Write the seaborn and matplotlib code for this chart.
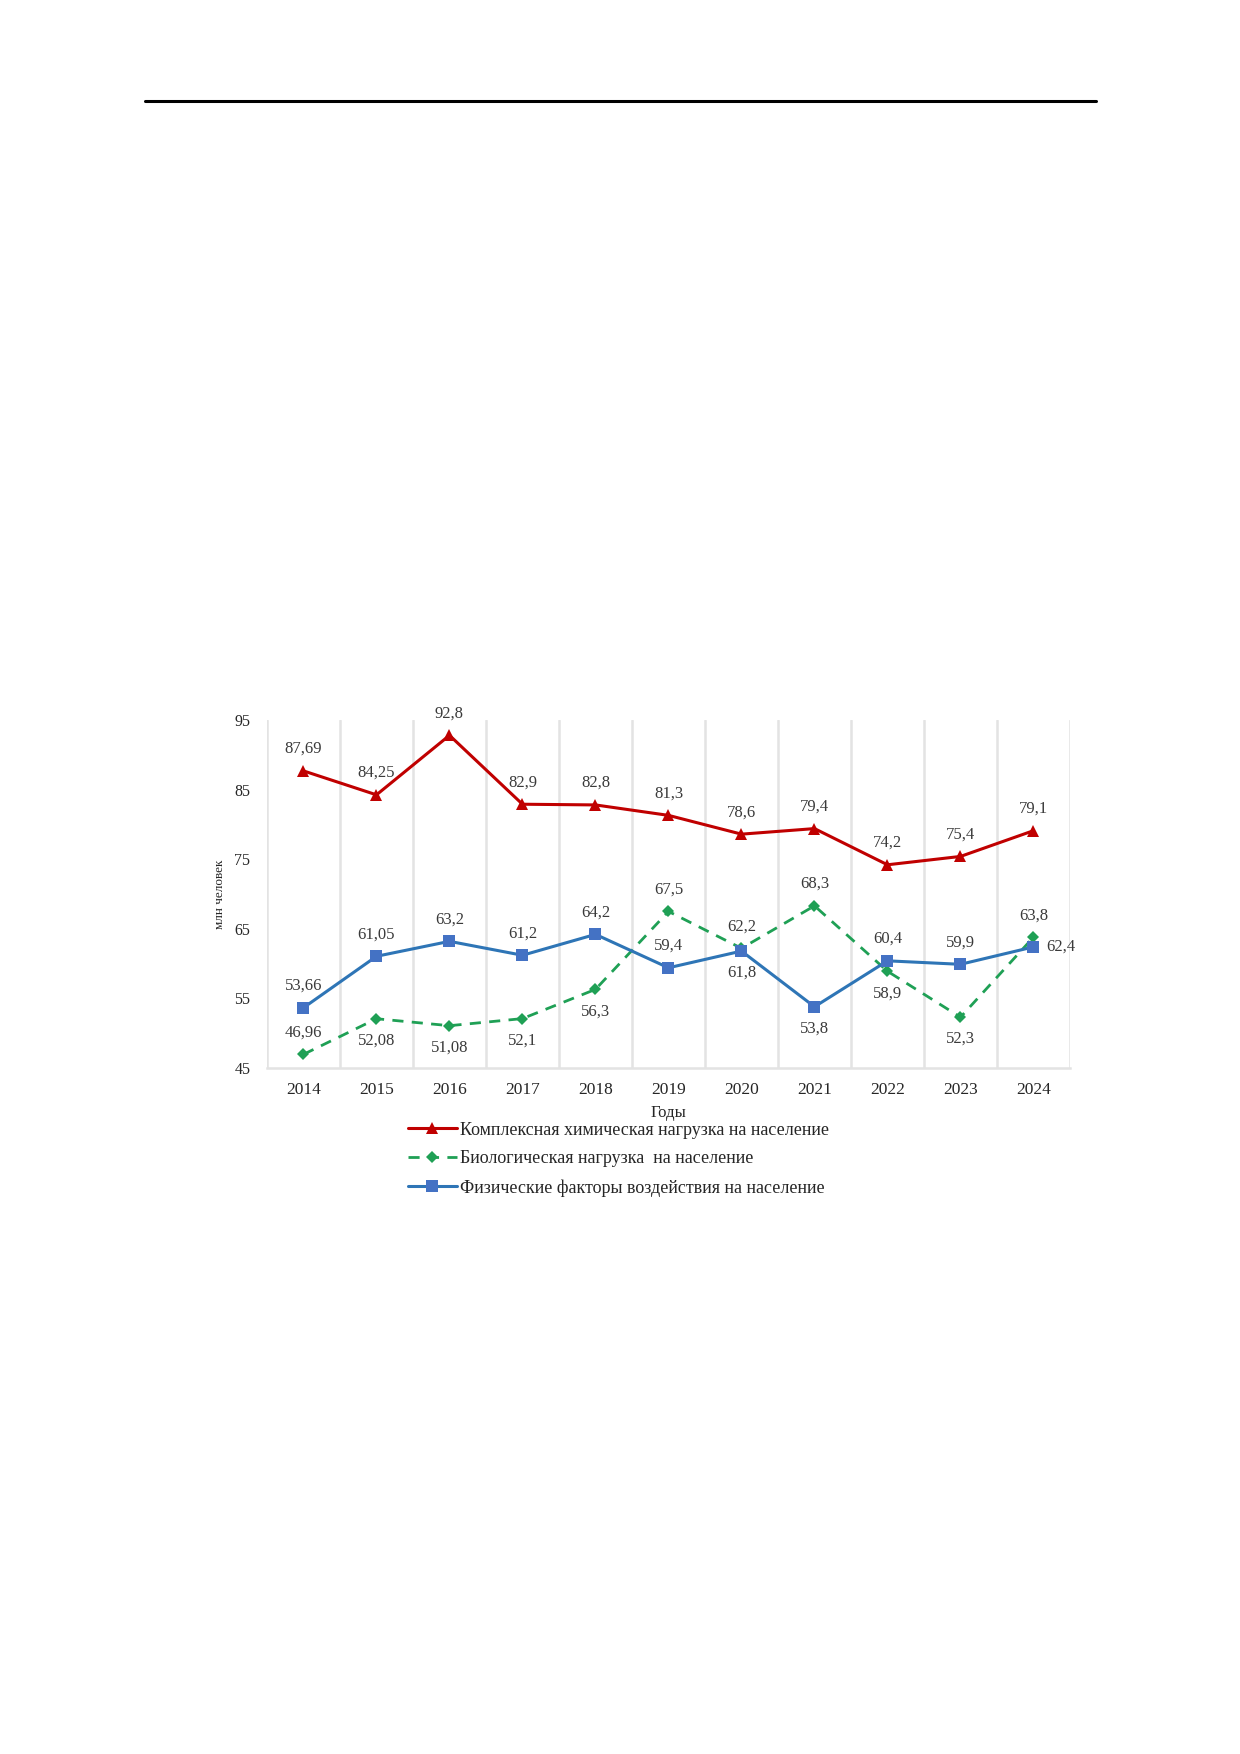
import matplotlib
matplotlib.use("Agg")
import matplotlib.pyplot as plt
import seaborn as sns
import pandas as pd
from matplotlib.lines import Line2D

# chart values
years = ["2014", "2015", "2016", "2017", "2018", "2019", "2020", "2021", "2022", "2023", "2024"]
chem = [87.69, 84.25, 92.8, 82.9, 82.8, 81.3, 78.6, 79.4, 74.2, 75.4, 79.1]
bio = [46.96, 52.08, 51.08, 52.1, 56.3, 67.5, 62.2, 68.3, 58.9, 52.3, 63.8]
phys = [53.66, 61.05, 63.2, 61.2, 64.2, 59.4, 61.8, 53.8, 60.4, 59.9, 62.4]

chem_name = "Комплексная химическая нагрузка на население"
bio_name = "Биологическая нагрузка  на население"
phys_name = "Физические факторы воздействия на население"

# where each data label sits: u = above, d = below, r = right
chem_pos = ["u"] * 11
bio_pos = ["u", "d", "d", "d", "d", "u", "u", "u", "d", "d", "u"]
phys_pos = ["u", "u", "u", "u", "u", "u", "d", "d", "u", "u", "r"]

sns.set_style("white")
plt.rcParams["font.family"] = ["Liberation Serif", "DejaVu Serif"]

df = pd.DataFrame({"x": range(len(years)), "chem": chem, "bio": bio, "phys": phys})

fig = plt.figure(figsize=(12.4, 17.54), dpi=100)
ax = fig.add_axes([0.2153, 0.3911, 0.6476, 0.1984])

red = "#C00000"
green = "#1FA055"
blue_line = "#2E75B6"
blue_mk = "#4472C4"

sns.lineplot(data=df, x="x", y="chem", ax=ax, color=red, lw=2.2, marker="^",
             markersize=8, markeredgewidth=0, label=chem_name, sort=False)
sns.lineplot(data=df, x="x", y="bio", ax=ax, color=green, lw=2.0, marker="D",
             markersize=6, markeredgewidth=0, label=bio_name, sort=False)
ax.lines[-1].set_dashes([5, 3.5])
sns.lineplot(data=df, x="x", y="phys", ax=ax, color=blue_line, lw=2.2, marker="s",
             markersize=9, markerfacecolor=blue_mk, markeredgewidth=0,
             label=phys_name, sort=False)


def put_labels(vals, pos):
    for i, (v, p) in enumerate(zip(vals, pos)):
        txt = f"{v:g}".replace(".", ",")
        if p == "u":
            off, ha, va = (0, 10), "center", "bottom"
        elif p == "d":
            off, ha, va = (0, -10), "center", "top"
        else:
            off, ha, va = (9, 0), "left", "center"
        ax.annotate(txt, (i, v), xytext=off, textcoords="offset points",
                    ha=ha, va=va, fontsize=12, color="#3a3a3a")


put_labels(chem, chem_pos)
put_labels(bio, bio_pos)
put_labels(phys, phys_pos)

ax.set_xlim(-0.5, len(years) - 0.5)
ax.set_ylim(45, 95)
ax.set_yticks([45, 55, 65, 75, 85, 95])
ax.set_xticks(range(len(years)))
ax.set_xticklabels(years, fontsize=12.5)
ax.tick_params(axis="y", labelsize=11.5, length=0, pad=12)
ax.tick_params(axis="x", length=0, pad=10)
for b in [i - 0.5 for i in range(len(years) + 1)]:
    ax.axvline(b, color="#E3E3E3", lw=1.8, zorder=0)
for s in ["top", "right", "left"]:
    ax.spines[s].set_visible(False)
ax.spines["bottom"].set_color("#E3E3E3")
ax.spines["bottom"].set_linewidth(1.8)
ax.set_xlabel("Годы", fontsize=12, labelpad=5)
ax.set_ylabel("млн человек", fontsize=9.5, labelpad=6)

ax.get_legend().remove()
handles, labels = ax.get_legend_handles_labels()
handles[1].set_dashes([4, 3])
fig.legend(handles, labels, loc="upper left", bbox_to_anchor=(0.329, 0.3605),
           frameon=False, fontsize=13, handlelength=2.7, handletextpad=0.2,
           labelspacing=0.65, borderaxespad=0, borderpad=0)

# black rule at top of page
fig.add_artist(Line2D([0.117, 0.884], [1 - 101 / 1754, 1 - 101 / 1754],
                      transform=fig.transFigure, color="black", lw=2.2))

fig.savefig("out.png", dpi=100)
